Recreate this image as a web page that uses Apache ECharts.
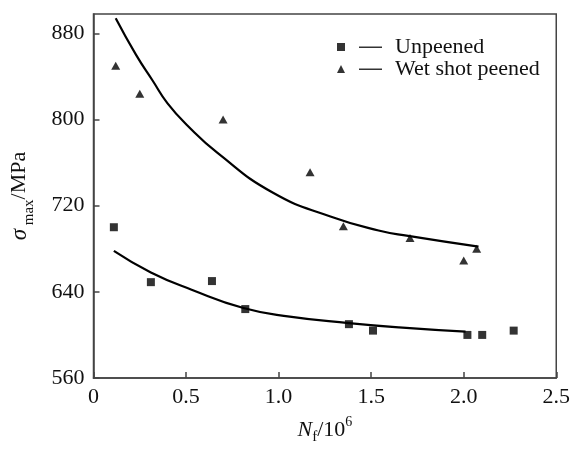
<!DOCTYPE html>
<html>
<head>
<meta charset="utf-8">
<script src="https://cdn.jsdelivr.net/npm/echarts@6/dist/echarts.min.js"></script>
<style>
  html, body { margin: 0; padding: 0; background: #fff; }
  #chart { width: 573px; height: 450px; }
</style>
</head>
<body>
<div id="chart"></div>
<script>
// measured points
const unpeenedX = [0.11, 0.31, 0.64, 0.82, 1.38, 1.51, 2.02, 2.10, 2.27];
const unpeenedY = [700, 649, 650, 624, 610, 604, 600, 600, 604];
const wetX = [0.12, 0.25, 0.70, 1.17, 1.35, 1.71, 2.00, 2.07];
const wetY = [850, 824, 800, 751, 701, 690, 669, 680];

// fitted curves
const unpeenedFitX = [0.11, 0.31, 0.53, 0.81, 1.06, 1.38, 1.65, 2.01];
const unpeenedFitY = [678, 658, 642, 625, 617, 611, 607, 603];
const wetFitX = [0.12, 0.23, 0.32, 0.40, 0.51, 0.67, 0.97, 1.28, 1.54, 1.70, 2.08];
const wetFitY = [894, 860, 836, 815, 794, 769, 732, 710, 697, 692, 682];

const xMin = 0, xMax = 2.5, xStep = 0.5;
const yMin = 560, yMax = 898, yStep = 80;

const serif = "Liberation Serif";
const zip = (xs, ys) => xs.map((x, i) => [x, ys[i]]);

const squareIcon = "path://M0,0h8v8h-8z M22,3.4h23v1.6h-23z";
const triIcon = "path://M4,0L8,8L0,8z M22,3.4h23v1.6h-23z";

const fitLine = (name, xs, ys) => ({
  name: name,
  type: "line",
  smooth: true,
  showSymbol: false,
  silent: true,
  lineStyle: { color: "#000", width: 2.2 },
  data: zip(xs, ys)
});

const chart = echarts.init(document.getElementById("chart"));
chart.setOption({
  animation: false,
  backgroundColor: "#fff",
  textStyle: { fontFamily: serif },
  grid: {
    left: 91, right: 14, top: 14, bottom: 61,
    show: true, borderColor: "#444", borderWidth: 1.5, backgroundColor: "transparent"
  },
  legend: {
    orient: "vertical",
    left: 332, top: 31,
    itemWidth: 45, itemHeight: 8, itemGap: 0,
    textStyle: { fontFamily: serif, fontSize: 22, color: "#111", lineHeight: 22, padding: [0, 0, 0, 8] },
    data: [
      { name: "Unpeened", icon: squareIcon },
      { name: "Wet shot peened", icon: triIcon }
    ]
  },
  xAxis: {
    type: "value",
    min: xMin, max: xMax, interval: xStep,
    name: "{n|N}{f|f}{t|/10}{e|6}",
    nameLocation: "middle",
    nameGap: 37,
    nameTextStyle: {
      rich: {
        n: { fontFamily: serif, fontSize: 22, fontStyle: "italic", color: "#111", lineHeight: 30, verticalAlign: "middle" },
        f: { fontFamily: serif, fontSize: 15, color: "#111", lineHeight: 11, verticalAlign: "bottom" },
        t: { fontFamily: serif, fontSize: 22, color: "#111", lineHeight: 30, verticalAlign: "middle" },
        e: { fontFamily: serif, fontSize: 14, color: "#111", lineHeight: 12, verticalAlign: "top" }
      }
    },
    axisLine: { lineStyle: { color: "#444", width: 1.5 } },
    axisTick: { inside: true, length: 6, lineStyle: { color: "#444", width: 1.5 } },
    axisLabel: {
      fontFamily: serif, fontSize: 22, color: "#111", margin: 8,
      formatter: v => (v === 0 ? "0" : v.toFixed(1))
    },
    splitLine: { show: false }
  },
  yAxis: {
    type: "value",
    min: yMin, max: yMax, interval: yStep,
    name: "{s|σ}{m| max}{t|/MPa}",
    nameLocation: "middle",
    nameGap: 57,
    nameTextStyle: {
      rich: {
        s: { fontFamily: serif, fontSize: 23, fontStyle: "italic", color: "#111", lineHeight: 34, verticalAlign: "middle" },
        m: { fontFamily: serif, fontSize: 15, color: "#111", lineHeight: 12, verticalAlign: "bottom" },
        t: { fontFamily: serif, fontSize: 22, color: "#111", lineHeight: 34, verticalAlign: "middle" }
      }
    },
    axisLine: { lineStyle: { color: "#444", width: 1.5 } },
    axisTick: { inside: true, length: 6, lineStyle: { color: "#444", width: 1.5 } },
    axisLabel: { fontFamily: serif, fontSize: 22, color: "#111", margin: 9, showMaxLabel: false },
    splitLine: { show: false }
  },
  series: [
    fitLine("Unpeened fit", unpeenedFitX, unpeenedFitY),
    fitLine("Wet shot peened fit", wetFitX, wetFitY),
    {
      name: "Unpeened",
      type: "scatter",
      symbol: "rect",
      symbolSize: 8,
      itemStyle: { color: "#000" },
      data: zip(unpeenedX, unpeenedY)
    },
    {
      name: "Wet shot peened",
      type: "scatter",
      symbol: "triangle",
      symbolSize: [9, 8],
      itemStyle: { color: "#000" },
      data: zip(wetX, wetY)
    }
  ]
});
</script>
</body>
</html>
